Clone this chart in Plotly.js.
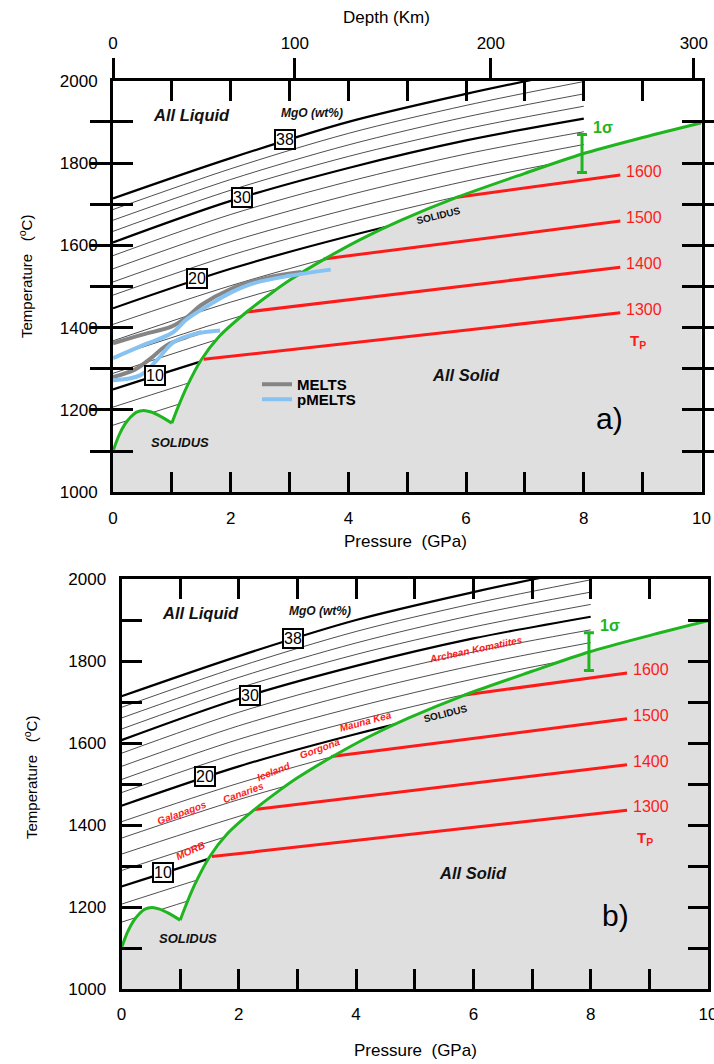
<!DOCTYPE html>
<html><head><meta charset="utf-8">
<script src="https://cdn.plot.ly/plotly-3.0.1.min.js"></script>
<style>html,body{margin:0;padding:0;background:#fff}#plot{width:714px;height:1064px}</style>
</head><body><div id="plot"></div>
<script>
// ---------- data ----------
const isoP = [0, 2, 4, 6, 8];                 // pressure nodes (GPa) of MgO isopleths
const mgo06 = [1163, 1253, 1333, 1403, 1463];
const mgo08 = [1207, 1297, 1377, 1447, 1507];
const mgo10 = [1250, 1340, 1420, 1490, 1550];
const mgo12 = [1289, 1381, 1460, 1530, 1590];
const mgo14 = [1329, 1421, 1501, 1570, 1630];
const mgo16 = [1368, 1462, 1541, 1610, 1670];
const mgo18 = [1408, 1502, 1582, 1650, 1710];
const mgo20 = [1447, 1543, 1622, 1690, 1750];
const mgo22 = [1479, 1576, 1655, 1723, 1782];
const mgo24 = [1511, 1609, 1688, 1756, 1813];
const mgo26 = [1543, 1642, 1722, 1789, 1845];
const mgo28 = [1575, 1675, 1755, 1822, 1876];
const mgo30 = [1607, 1708, 1788, 1855, 1908];
const mgo32 = [1634, 1734, 1816, 1883, 1938];
const mgo34 = [1661, 1760, 1844, 1912, 1968];
const mgo36 = [1687, 1786, 1872, 1940, 1998];
const mgo38 = [1714, 1812, 1900, 1968, 2028];

const isoLabelText = ['10', '20', '30', '38'];
const isoLabelP = [0.71, 1.42, 2.19, 2.93];
const isoLabelT = [1284, 1519, 1717, 1856];

const solidusLowP = [0, 0.1, 0.2, 0.3, 0.4, 0.52, 0.65, 0.8, 1.0];
const solidusLowT = [1100, 1138, 1165, 1183, 1195, 1199, 1195, 1185, 1168];
const solidusHighP = [1.0, 1.1, 1.25, 1.5, 1.8, 2.27, 2.7, 3.0, 3.6, 4.2, 4.88, 5.85, 7.0, 7.97, 9.0, 10];
const solidusHighT = [1168, 1205, 1255, 1322, 1378, 1438, 1485, 1515, 1567, 1614, 1660, 1717, 1775, 1822, 1862, 1898];

const tpLabels = ['1300', '1400', '1500', '1600'];
const tpStartP = [1.54, 2.27, 3.58, 5.85];
const tpStartT = [1323, 1438, 1567, 1717];
const tpEndP = [8.62, 8.62, 8.62, 8.62];
const tpEndT = [1436, 1547, 1659, 1771];

const meltsUpP = [0, 0.5, 1.0, 1.25, 1.5, 2.0, 2.6, 3.2];
const meltsUpT = [1362, 1383, 1403, 1425, 1455, 1494, 1521, 1535];
const pmeltsUpP = [0, 0.5, 1.0, 1.25, 1.6, 2.0, 2.4, 3.0, 3.7];
const pmeltsUpT = [1326, 1357, 1387, 1420, 1452, 1485, 1508, 1526, 1541];
const meltsLowP = [0, 0.37, 0.63, 0.91, 1.25, 1.5];
const meltsLowT = [1280, 1298, 1324, 1357, 1377, 1389];
const pmeltsLowP = [0, 0.46, 0.74, 1.03, 1.4, 1.82];
const pmeltsLowT = [1272, 1284, 1320, 1365, 1385, 1393];

const sigmaP = [7.97];
const sigmaT = [1823];
const sigmaErr = [46];

const depthKm = ['0', '100', '200', '300'];
const depthP = [0, 3.09, 6.42, 9.87];

const pressTicks = [0, 1, 2, 3, 4, 5, 6, 7, 8, 9, 10];
const pressLabels = ['0', '', '2', '', '4', '', '6', '', '8', '', '10'];
const tempTicks = [1000, 1100, 1200, 1300, 1400, 1500, 1600, 1700, 1800, 1900, 2000];
const tempLabels = ['1000', '', '1200', '', '1400', '', '1600', '', '1800', '', '2000'];

const hotspots = ['MORB', 'Galapagos', 'Canaries', 'Iceland', 'Gorgona', 'Mauna Kea', 'Archean Komatiites'];
const hotspotP = [1.18, 1.03, 2.08, 2.59, 3.38, 4.16, 6.03];
const hotspotT = [1338, 1431, 1479, 1531, 1586, 1652, 1829];
const hotspotAngle = [-25, -20, -20, -22, -20, -15, -12];

// ---------- styling ----------
const FONT = 'Liberation Sans, Arial, sans-serif';
const GREEN = '#1fb51f';
const RED = '#ff1a1a';
const FILL = '#dfdfdf';

const isopleths = [
  [6, mgo06], [8, mgo08], [10, mgo10], [12, mgo12], [14, mgo14], [16, mgo16], [18, mgo18],
  [20, mgo20], [22, mgo22], [24, mgo24], [26, mgo26], [28, mgo28], [30, mgo30],
  [32, mgo32], [34, mgo34], [36, mgo36], [38, mgo38]
];
const boldMgO = [10, 20, 30, 38];

const traces = [];
function panelTraces(xa, ya, withMelts) {
  isopleths.forEach(([m, arr]) => {
    const bold = boldMgO.includes(m);
    traces.push({x: isoP, y: arr, xaxis: xa, yaxis: ya, mode: 'lines', showlegend: false, hoverinfo: 'skip',
      line: {color: '#000', width: bold ? 2.2 : 0.7, shape: 'spline', smoothing: 0.9}});
  });
  const fx = solidusLowP.concat(solidusHighP.slice(1), [10, 0]);
  const fy = solidusLowT.concat(solidusHighT.slice(1), [1000, 1000]);
  traces.push({x: fx, y: fy, xaxis: xa, yaxis: ya, mode: 'lines', fill: 'toself', fillcolor: FILL,
    line: {width: 0}, showlegend: false, hoverinfo: 'skip'});
  for (let i = 0; i < tpLabels.length; i++) {
    traces.push({x: [tpStartP[i], tpEndP[i]], y: [tpStartT[i], tpEndT[i]], xaxis: xa, yaxis: ya, mode: 'lines',
      line: {color: RED, width: 3}, showlegend: false, hoverinfo: 'skip'});
  }
  traces.push({x: solidusLowP, y: solidusLowT, xaxis: xa, yaxis: ya, mode: 'lines',
    line: {color: GREEN, width: 3, shape: 'spline', smoothing: 0.8}, showlegend: false, hoverinfo: 'skip'});
  traces.push({x: solidusHighP, y: solidusHighT, xaxis: xa, yaxis: ya, mode: 'lines',
    line: {color: GREEN, width: 3, shape: 'spline', smoothing: 0.8}, showlegend: false, hoverinfo: 'skip'});
  traces.push({x: sigmaP, y: sigmaT, xaxis: xa, yaxis: ya, mode: 'markers', marker: {size: 1, opacity: 0},
    error_y: {type: 'data', array: sigmaErr, visible: true, color: GREEN, thickness: 3, width: 5},
    showlegend: false, hoverinfo: 'skip'});
  if (withMelts) {
    traces.push({x: meltsUpP, y: meltsUpT, xaxis: xa, yaxis: ya, mode: 'lines', name: '<b>MELTS</b>',
      line: {color: '#858585', width: 4, shape: 'spline'}, showlegend: true, legend: 'legend', hoverinfo: 'skip'});
    traces.push({x: pmeltsUpP, y: pmeltsUpT, xaxis: xa, yaxis: ya, mode: 'lines', name: '<b>pMELTS</b>',
      line: {color: '#86c3f2', width: 4, shape: 'spline'}, showlegend: true, legend: 'legend2', hoverinfo: 'skip'});
    traces.push({x: meltsLowP, y: meltsLowT, xaxis: xa, yaxis: ya, mode: 'lines',
      line: {color: '#858585', width: 4, shape: 'spline'}, showlegend: false, hoverinfo: 'skip'});
    traces.push({x: pmeltsLowP, y: pmeltsLowT, xaxis: xa, yaxis: ya, mode: 'lines',
      line: {color: '#86c3f2', width: 4, shape: 'spline'}, showlegend: false, hoverinfo: 'skip'});
  }
}
panelTraces('x', 'y', true);
panelTraces('x2', 'y2', false);
traces.push({x: [0, 10], y: [1000, 1000], xaxis: 'x3', yaxis: 'y', mode: 'lines', line: {width: 0},
  showlegend: false, hoverinfo: 'skip'});

const annotations = [];
function ann(xr, yr, x, y, text, opt) {
  annotations.push(Object.assign({xref: xr, yref: yr, x: x, y: y, text: text, showarrow: false,
    xanchor: 'center', yanchor: 'middle', font: {family: FONT, size: 15, color: '#000'}}, opt || {}));
}
function panelAnn(xr, yr, letter) {
  ann(xr, yr, 1.34, 1917, '<b><i>All Liquid</i></b>', {font: {family: FONT, size: 16.5, color: '#111'}});
  ann(xr, yr, 3.38, 1922, '<b><i>MgO (wt%)</i></b>', {font: {family: FONT, size: 12, color: '#111'}});
  ann(xr, yr, 5.99, 1284, '<b><i>All Solid</i></b>', {font: {family: FONT, size: 16.5, color: '#111'}});
  ann(xr, yr, 1.14, 1122, '<b><i>SOLIDUS</i></b>', {font: {family: FONT, size: 13, color: '#111'}});
  ann(xr, yr, 5.53, 1673, '<b>SOLIDUS</b>', {font: {family: FONT, size: 10, color: '#111'}, textangle: -14});
  ann(xr, yr, 8.43, 1180, letter, {font: {family: FONT, size: 30, color: '#000'}});
  ann(xr, yr, 8.12, 1887, '<b>1σ</b>', {xanchor: 'left', font: {family: FONT, size: 16, color: GREEN}});
  ann(xr, yr, 8.75, 1366, '<b>T<sub>P</sub></b>', {xanchor: 'left', font: {family: FONT, size: 15, color: RED}});
  for (let i = 0; i < tpLabels.length; i++) {
    ann(xr, yr, 8.68, tpEndT[i] + 9, tpLabels[i], {xanchor: 'left', font: {family: FONT, size: 16, color: RED}});
  }
  for (let i = 0; i < isoLabelText.length; i++) {
    ann(xr, yr, isoLabelP[i], isoLabelT[i], isoLabelText[i], {bgcolor: '#fff', bordercolor: '#000',
      borderwidth: 2, borderpad: 0, font: {family: FONT, size: 16, color: '#000'}});
  }
}
panelAnn('x', 'y', 'a)');
panelAnn('x2', 'y2', 'b)');
for (let i = 0; i < hotspots.length; i++) {
  ann('x2', 'y2', hotspotP[i], hotspotT[i], '<b><i>' + hotspots[i] + '</i></b>',
    {textangle: hotspotAngle[i], font: {family: FONT, size: 10, color: RED}});
}
const W = 714, H = 1064;
function pann(px, py, text, size, angle) {
  annotations.push({xref: 'paper', yref: 'paper', x: px / W, y: 1 - py / H, text: text, showarrow: false,
    xanchor: 'center', yanchor: 'middle', textangle: angle || 0, font: {family: FONT, size: size, color: '#000'}});
}
pann(386, 18, 'Depth (Km)', 17);
pann(405, 541, 'Pressure  (GPa)', 17);
pann(415, 1050, 'Pressure  (GPa)', 17);
pann(25, 277, 'Temperature   (<sup>o</sup>C)', 15, -90);
pann(30, 778, 'Temperature   (<sup>o</sup>C)', 15, -90);

function xax(domain, anchor) {
  return {domain: domain, anchor: anchor, range: [0, 10], tickmode: 'array', tickvals: pressTicks, ticktext: pressLabels,
    ticks: 'inside', ticklen: 20, tickwidth: 3, tickcolor: '#000', showline: true, linewidth: 3, linecolor: '#000',
    mirror: 'allticks', showgrid: false, zeroline: false, ticklabelstandoff: 8, ticklabeloverflow: 'allow',
    tickfont: {family: FONT, size: 17, color: '#000'}, fixedrange: true};
}
function yax(domain, anchor) {
  return {domain: domain, anchor: anchor, range: [1000, 2000], tickmode: 'array', tickvals: tempTicks, ticktext: tempLabels,
    ticks: 'inside', ticklen: 20, tickwidth: 3, tickcolor: '#000', showline: true, linewidth: 3, linecolor: '#000',
    mirror: 'allticks', showgrid: false, zeroline: false, ticklabelstandoff: 9, ticklabeloverflow: 'allow',
    tickfont: {family: FONT, size: 17, color: '#000'}, fixedrange: true};
}
const legendBase = {xanchor: 'left', yanchor: 'top', bgcolor: 'rgba(0,0,0,0)',
  font: {family: FONT, size: 15, color: '#000'}, tracegroupgap: 0, itemwidth: 30};

const layout = {
  width: W, height: H, margin: {l: 0, r: 0, t: 0, b: 0}, paper_bgcolor: '#fff', plot_bgcolor: '#fff',
  showlegend: true,
  legend: Object.assign({x: 257 / W, y: 1 - 368 / H}, legendBase),
  legend2: Object.assign({x: 257 / W, y: 1 - 383 / H}, legendBase),
  xaxis: xax([113 / W, 701.5 / W], 'y'),
  yaxis: yax([1 - 492.3 / H, 1 - 80.7 / H], 'x'),
  xaxis2: xax([121.5 / W, 708 / W], 'y2'),
  yaxis2: yax([1 - 989 / H, 1 - 579 / H], 'x2'),
  xaxis3: {overlaying: 'x', anchor: 'y', side: 'top', range: [0, 10], tickmode: 'array', tickvals: depthP,
    ticktext: depthKm, ticks: 'outside', ticklen: 22, tickwidth: 3, tickcolor: '#000', showline: false,
    showgrid: false, zeroline: false, ticklabelstandoff: 2, ticklabeloverflow: 'allow',
    tickfont: {family: FONT, size: 17, color: '#000'}, fixedrange: true},
  annotations: annotations
};
Plotly.newPlot('plot', traces, layout, {staticPlot: true, displayModeBar: false});
</script></body></html>
